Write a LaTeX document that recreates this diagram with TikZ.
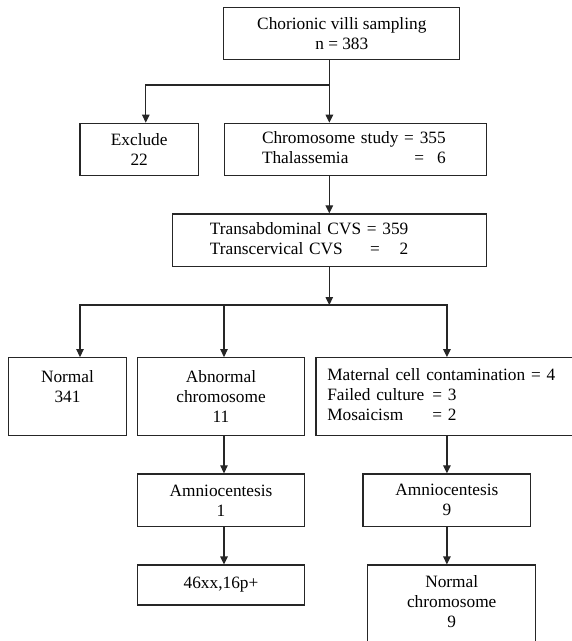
\documentclass[tikz,border=0pt]{standalone}
\usepackage{fontspec}
\setmainfont{Liberation Serif}
\usetikzlibrary{arrows.meta, positioning, calc}

\tikzset{
  flowbox/.style 2 args={draw=black!85, line width=1.2pt, minimum width=#1, minimum height=#2, inner sep=0pt, align=center},
  flowline/.style={draw=black!85, line width=1.2pt},
  flowarrow/.style={flowline, -{Triangle[length=8pt, width=7.5pt]}}
}

\begin{document}
\begin{tikzpicture}[x=1pt, y=-1pt, font=\fontsize{17.3}{20}\selectfont]
  \useasboundingbox (0,0) rectangle (572,641);

  % sampling and first split
  \node[flowbox={236pt}{52.5pt}] (cvs) at (341.8,33.5) {Chorionic villi sampling\\n = 383};
  \node[flowbox={118.3pt}{52.4pt}] (excl) at (139.2,149.5) {Exclude\\22};
  \node[flowbox={262pt}{52.4pt}, align=left, text width=186.8pt] (study) at (355.4,149.5)
    {\begin{tabular}{@{}l@{}}Chromosome study = 355\\Thalassemia\hfill=\hspace{0.75em}6\end{tabular}};

  % route of sampling
  \node[flowbox={314pt}{52.7pt}, align=left, text width=238.8pt] (route) at (329.3,240.3)
    {\begin{tabular}{@{}l@{}}Transabdominal CVS = 359\\Transcervical CVS\hfill=\hspace{1.15em}2\end{tabular}};

  % results
  \node[flowbox={118.4pt}{78pt}] (normal) at (67.5,396.7) {Normal\\341\\\phantom{0}};
  \node[flowbox={167pt}{78pt}] (abn) at (221,396.7) {Abnormal\\chromosome\\11};
  \node[flowbox={274pt}{78pt}, align=left, text width=251.4pt] (mcc) at (453,396.7)
    {\begin{tabular}{@{}l@{\hspace{8pt}}l@{}}\multicolumn{2}{@{}l@{}}{Maternal cell contamination = 4}\\Failed culture & = 3\\Mosaicism & = 2\end{tabular}};

  % follow up
  \node[flowbox={167pt}{52.7pt}] (amn1) at (221,500.3) {Amniocentesis\\1};
  \node[flowbox={167pt}{40pt}] (karyo) at (221,585) {46xx,16p+};
  \node[flowbox={167.8pt}{52.7pt}] (amn9) at (446.9,500.3) {Amniocentesis\\9};
  \node[flowbox={167.8pt}{94pt}] (normchr) at (451.7,612)
    {Normal\\chromosome\\9\\\phantom{0}};

  % connectors
  \coordinate (split1) at (329.4,85);
  \coordinate (split2) at (329.3,305);
  \draw[flowarrow] (cvs.south -| split1) -- (split1 |- study.north);
  \draw[flowarrow] (split1) -| ([xshift=6.6pt]excl.north);
  \draw[flowarrow] (study.south -| route.north) -- (route.north);
  \draw[flowarrow] (route.south) -- (split2);
  \draw[flowarrow] (split2) -| ([xshift=12.5pt]normal.north);
  \draw[flowarrow] (split2) -| (amn9.north |- mcc.north);
  \draw[flowarrow] ([xshift=3pt]abn.north |- split2) -- ([xshift=3pt]abn.north);
  \draw[flowarrow] ([xshift=3pt]abn.south) -- ([xshift=3pt]amn1.north);
  \draw[flowarrow] ([xshift=3pt]amn1.south) -- ([xshift=3pt]karyo.north);
  \draw[flowarrow] (mcc.south -| amn9.north) -- (amn9.north);
  \draw[flowarrow] (amn9.south) -- (amn9.south |- normchr.north);
\end{tikzpicture}
\end{document}
